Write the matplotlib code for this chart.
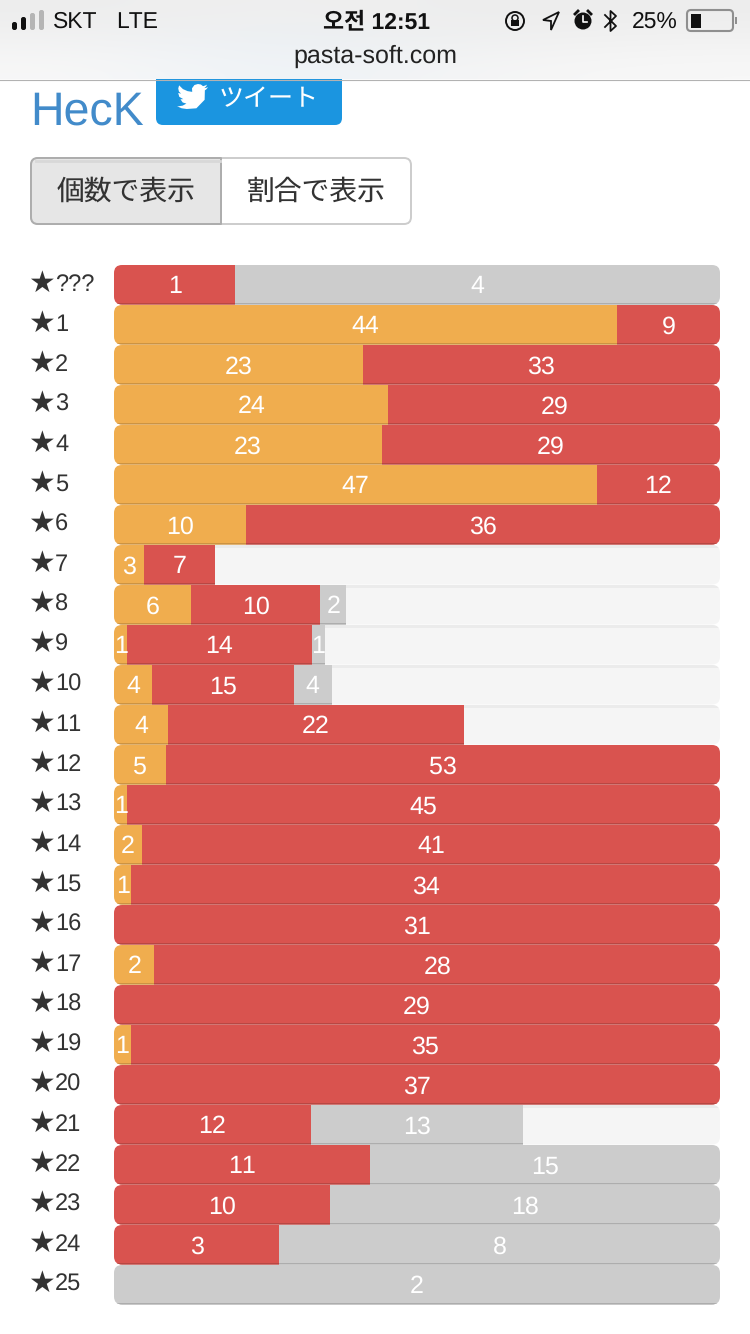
import numpy as np
import matplotlib
matplotlib.use('Agg')
import matplotlib.pyplot as plt
from matplotlib.patches import FancyBboxPatch, Rectangle, Polygon, Circle

plt.rcParams['text.hinting'] = 'no_hinting'
plt.rcParams['text.kerning_factor'] = 6

# data
levels = ['???'] + [str(i) for i in range(1, 26)]
orange = [0, 44, 23, 24, 23, 47, 10, 3, 6, 1, 4, 4, 5, 1, 2, 1, 0, 2, 0, 1, 0, 0, 0, 0, 0, 0]
red = [1, 9, 33, 29, 29, 12, 36, 7, 10, 14, 15, 22, 53, 45, 41, 34, 31, 28, 29, 35, 37, 12, 11, 10, 3, 0]
grey = [4, 0, 0, 0, 0, 0, 0, 0, 2, 1, 4, 0, 0, 0, 0, 0, 0, 0, 0, 0, 0, 13, 15, 18, 8, 2]
empty = [0, 0, 0, 0, 0, 0, 0, 50, 29, 30, 41, 19, 0, 0, 0, 0, 0, 0, 0, 0, 0, 12, 0, 0, 0, 0]

series = [(orange, '#f0ad4e', '#cc9342'), (red, '#d9534f', '#b84743'), (grey, '#cccccc', '#adadad')]

W, H = 750, 1334
LEFT, RIGHT, TOP, PITCH = 114, 720, 265, 40
SANS = ['Liberation Sans', 'DejaVu Sans']
JP = ['Noto Sans CJK JP', 'DejaVu Sans']

# twitter bird outline, icon units
bird_pts = [(23.95, 4.57), (22.6, 5.1), (21.13, 5.35), (22.4, 4.2), (23.29, 2.62), (21.8, 3.3), (20.16, 3.81),
            (18.5, 2.5), (16.2, 2.1), (13.5, 2.9), (11.6, 5.5), (11.78, 8.29), (8.2, 7.7), (4.6, 6.1), (1.64, 3.16),
            (0.97, 5.64), (1.5, 8.0), (3.16, 9.73), (0.93, 9.12), (0.93, 9.18), (1.8, 12.2), (4.88, 14.0),
            (2.67, 14.09), (4.4, 16.6), (7.27, 17.51), (4.4, 19.1), (1.17, 19.61), (0, 19.54), (3.6, 21.2),
            (7.56, 21.75), (15, 21.2), (21.4, 14.5), (21.56, 7.77), (21.54, 7.14), (22.9, 6.1), (24, 4.59)]

fig = plt.figure(figsize=(W / 100, H / 100), dpi=100, facecolor='white')

# page layer in pixel coordinates
page = fig.add_axes([0, 0, 1, 1])
page.set_xlim(0, W)
page.set_ylim(H, 0)
page.axis('off')

# browser bar
bar_bg = np.array([[[.93, .93, .93], [.94, .94, .94], [.93, .93, .93], [.93, .93, .93]],
                   [[.95, .95, .95], [.92, .94, .96], [.94, .94, .94], [.95, .95, .95]],
                   [[.97, .97, .97], [.93, .95, .97], [.96, .96, .96], [.97, .97, .97]]])
page.imshow(bar_bg, extent=(0, W, 79, 0), aspect='auto', interpolation='bicubic', zorder=1.9)
page.set_xlim(0, W)
page.set_ylim(H, 0)
page.plot([0, W], [79.5, 79.5], color='#b2b2b2', lw=0.8, zorder=2)

# signal bars
for x, top, c in [(12, 22, '#111111'), (21, 17, '#111111'), (30, 13, '#b5b5b5'), (39, 10, '#b5b5b5')]:
    page.add_patch(FancyBboxPatch((x, top), 5, 30 - top, boxstyle='round,pad=0,rounding_size=2.2', fc=c, ec='none', zorder=3))
page.text(53, 22, 'SKT', fontsize=16.5, family=SANS, color='#111111', va='center', zorder=3)
page.text(116, 22, 'LTE', fontsize=16.5, family=SANS, color='#111111', va='center', zorder=3)
page.text(377, 22, '오전 12:51', fontsize=16.5, family=['Liberation Sans', 'Noto Sans CJK KR', 'DejaVu Sans'], color='#111111',
          ha='center', va='center', fontweight='bold', zorder=3)
page.text(375, 56, 'pasta-soft.com', fontsize=18, family=SANS, color='#222222', ha='center', va='center', zorder=3)

# status icons
page.add_patch(Circle((515, 21), 9, fc='none', ec='#111111', lw=1.4, zorder=3))
page.add_patch(Rectangle((511, 20), 8, 6, fc='#111111', ec='none', zorder=3))
page.add_patch(Circle((515, 18), 3, fc='none', ec='#111111', lw=1.1, zorder=3))
page.add_patch(Polygon([[543, 20], [559, 12], [551, 30], [551, 21]], closed=True, fc='none', ec='#111111', lw=1.3, zorder=3))
page.add_patch(Circle((583, 21), 8.5, fc='#111111', ec='none', zorder=3))
page.plot([583, 583, 587], [16, 22, 22], color='white', lw=1.2, zorder=4)
page.plot([575, 578], [14, 11], color='#111111', lw=2, zorder=3)
page.plot([591, 588], [14, 11], color='#111111', lw=2, zorder=3)
page.plot([605, 616, 610.5, 610.5, 616, 605], [15, 26, 31, 11, 16, 27], color='#111111', lw=1.3, zorder=3)
page.text(632, 22, '25%', fontsize=16.5, family=SANS, color='#111111', va='center', zorder=3)
page.add_patch(FancyBboxPatch((687, 10), 46, 21, boxstyle='round,pad=0,rounding_size=4', fc='none', ec='#8f8f8f', lw=1.5, zorder=3))
page.add_patch(Rectangle((691, 14), 10, 14, fc='#111111', ec='none', zorder=3))
page.add_patch(Rectangle((735, 17), 2, 7, fc='#8f8f8f', ec='none', zorder=3))

# title and tweet button
page.text(30, 112, 'HecK', fontsize=33.5, family=SANS, color='#428bca', va='center', zorder=3)
page.add_patch(FancyBboxPatch((156, 60), 186, 65, boxstyle='round,pad=0,rounding_size=7', fc='#1b95e0', ec='none', zorder=1.5))
page.add_patch(Polygon([(177 + x * 31 / 24, 84 + (y - 2.1) * 25 / 19.65) for x, y in bird_pts], closed=True,
                       fc='white', ec='none', zorder=3))
page.text(219, 99, 'ツイート', fontsize=18, family=JP, color='white', va='center', zorder=3)

# toggle buttons
page.add_patch(FancyBboxPatch((31, 158), 380, 66, boxstyle='round,pad=0,rounding_size=7', fc='white', ec='#cccccc', lw=1.4, zorder=2))
page.add_patch(FancyBboxPatch((31, 158), 190, 66, boxstyle='round,pad=0,rounding_size=7', fc='#e6e6e6', ec='#adadad', lw=1.4, zorder=2.1))
page.add_patch(Rectangle((212, 159), 9, 64, fc='#e6e6e6', ec='none', zorder=2.2))
page.plot([212, 221, 221, 212], [158, 158, 224, 224], color='#adadad', lw=1.4, zorder=2.3)
page.plot([36, 220], [160.5, 160.5], color='#d8d8d8', lw=2, zorder=2.4)
page.text(126, 192, '個数で表示', fontsize=20, family=JP, color='#333333', ha='center', va='center', zorder=3)
page.text(316, 192, '割合で表示', fontsize=20, family=JP, color='#333333', ha='center', va='center', zorder=3)

# chart layer, one row per level, every row scaled to its own total
n = len(levels)
ax = fig.add_axes([LEFT / W, (H - TOP - n * PITCH) / H, (RIGHT - LEFT) / W, n * PITCH / H])
ax.set_xlim(0, 1)
ax.set_ylim(n, 0)
ax.axis('off')

for i, lev in enumerate(levels):
    y_px = TOP + i * PITCH
    clip = FancyBboxPatch((LEFT, y_px), RIGHT - LEFT, PITCH - 0.5, boxstyle='round,pad=0,rounding_size=8',
                          transform=page.transData, fc='none', ec='none')
    ax.add_patch(clip)
    total = orange[i] + red[i] + grey[i] + empty[i]
    marks = []
    if empty[i] > 0:
        marks += list(ax.barh(i + 0.5, 1, height=1, left=0, color='#f5f5f5', zorder=1))
        marks += list(ax.barh(i + 0.04, 1, height=0.08, left=0, color='#ebebeb', zorder=1.1))
    start = 0
    for values, col, dark in series:
        v = values[i]
        if v == 0:
            continue
        w = v / total
        marks += list(ax.barh(i + 0.5, w, height=1, left=start, color=col, zorder=2))
        marks += list(ax.barh(i + 0.975, w, height=0.05, left=start, color=dark, zorder=2.1))
        ax.text(start + w / 2, i + 0.55, str(v), color='white', fontsize=18, family=SANS, ha='center', va='center', zorder=3)
        start += w
    for m in marks:
        m.set_clip_path(clip)
    page.text(28.5, y_px + 18.5, '★', fontsize=21.5, family=['DejaVu Sans'], color='#333333', va='center', zorder=3)
    page.text(55, y_px + 19.5, lev, fontsize=17, family=SANS, color='#333333', va='center', zorder=3)

fig.savefig('out.png', dpi=100)
